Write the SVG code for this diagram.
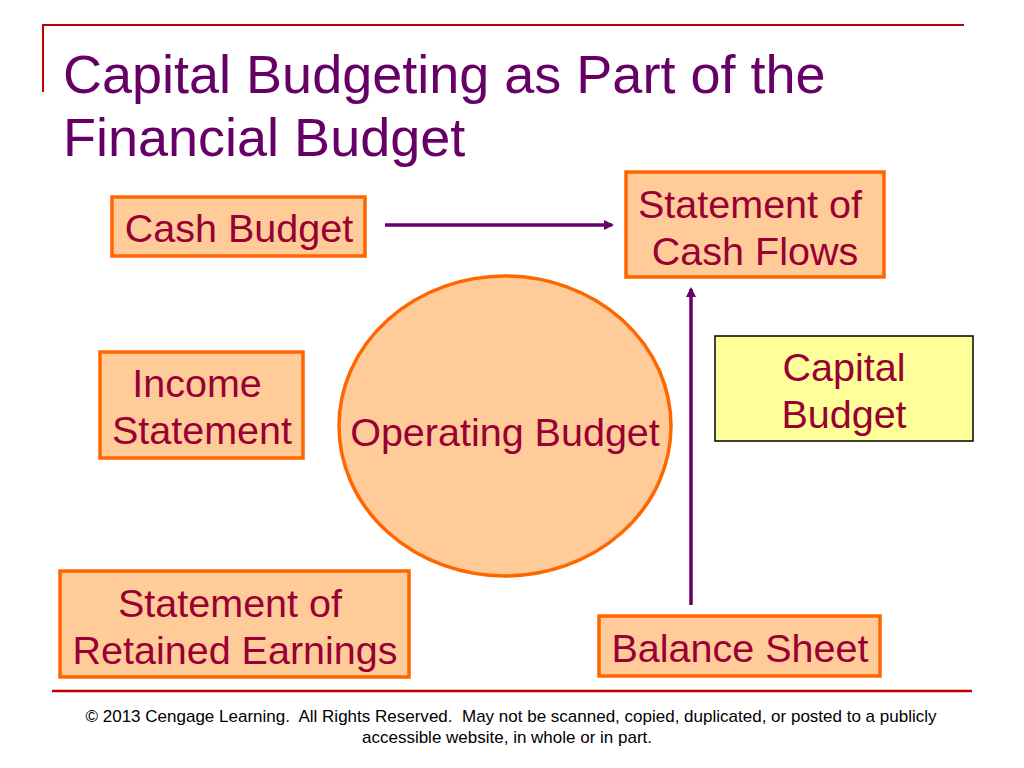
<svg xmlns="http://www.w3.org/2000/svg" width="1024" height="768" viewBox="0 0 1024 768">
<defs>
<style>
.box{fill:#FFCC99;stroke:#FF6600;stroke-width:3.5}
.cap{fill:#FFFF99;stroke:#000;stroke-width:1.5}
.lbl{font-family:"Liberation Sans",Arial,sans-serif;font-size:39.5px;fill:#990033;text-anchor:middle}
.title{font-family:"Liberation Sans",Arial,sans-serif;font-size:54px;fill:#660066}
.foot{font-family:"Liberation Sans Narrow","Liberation Sans",Arial,sans-serif;font-size:17px;fill:#000;text-anchor:middle;white-space:pre}
.conn{stroke:#660066;stroke-width:3.5;fill:none}
</style>
<marker id="ah" markerWidth="10" markerHeight="10" refX="8" refY="5" orient="auto" markerUnits="userSpaceOnUse">
<path d="M0,0 L10,5 L0,10 z" fill="#660066"/>
</marker>
</defs>
<rect width="1024" height="768" fill="#fff"/>
<g id="frame">
<line x1="42" y1="25" x2="964" y2="25" stroke="#C00000" stroke-width="2"/>
<line x1="43" y1="25" x2="43" y2="92" stroke="#C00000" stroke-width="2"/>
<line x1="52" y1="691" x2="972" y2="691" stroke="#C00000" stroke-width="2.5"/>
</g>
<g id="title">
<text class="title" x="63" y="93">Capital Budgeting as Part of the</text>
<text class="title" x="63" y="156">Financial Budget</text>
</g>
<g id="cash-budget">
<rect class="box" x="112" y="197" width="253" height="59"/>
<text class="lbl" x="239" y="242">Cash Budget</text>
</g>
<g id="statement-cash-flows">
<rect class="box" x="626" y="172" width="258" height="105"/>
<text class="lbl" x="750" y="218">Statement of</text>
<text class="lbl" x="755" y="265">Cash Flows</text>
</g>
<g id="income-statement">
<rect class="box" x="100" y="352" width="203" height="106"/>
<text class="lbl" x="197" y="397">Income</text>
<text class="lbl" x="202" y="444">Statement</text>
</g>
<g id="operating-budget">
<ellipse class="box" cx="505" cy="426" rx="166" ry="150"/>
<text class="lbl" x="505" y="446">Operating Budget</text>
</g>
<g id="capital-budget">
<rect class="cap" x="715" y="336" width="258" height="105"/>
<text class="lbl" x="844" y="381">Capital</text>
<text class="lbl" x="844" y="428">Budget</text>
</g>
<g id="retained-earnings">
<rect class="box" x="60" y="571" width="349" height="106"/>
<text class="lbl" x="230" y="617">Statement of</text>
<text class="lbl" x="235" y="664">Retained Earnings</text>
</g>
<g id="balance-sheet">
<rect class="box" x="599" y="616" width="281" height="60"/>
<text class="lbl" x="740" y="662">Balance Sheet</text>
</g>
<g id="connectors">
<line class="conn" x1="385" y1="225" x2="612" y2="225" marker-end="url(#ah)"/>
<line class="conn" x1="691" y1="605" x2="691" y2="289" marker-end="url(#ah)"/>
</g>
<g id="footer">
<text class="foot" xml:space="preserve" x="511" y="722" textLength="851" lengthAdjust="spacingAndGlyphs">© 2013 Cengage Learning.  All Rights Reserved.  May not be scanned, copied, duplicated, or posted to a publicly</text>
<text class="foot" x="507" y="743" textLength="290" lengthAdjust="spacingAndGlyphs">accessible website, in whole or in part.</text>
</g>
</svg>
